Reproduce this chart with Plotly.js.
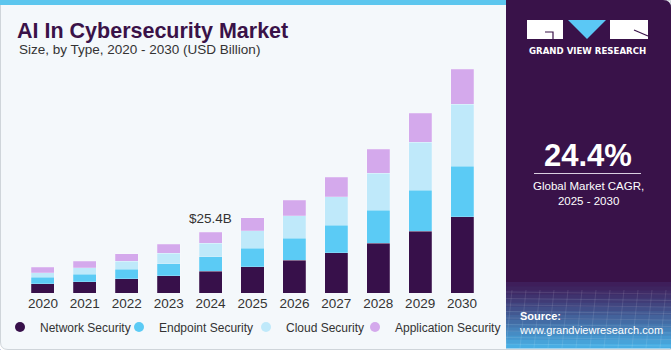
<!DOCTYPE html>
<html>
<head>
<meta charset="utf-8">
<script src="https://cdn.plot.ly/plotly-3.0.1.min.js"></script>
<style>html,body{margin:0;padding:0;background:#ffffff;}#chart{width:671px;height:350px;}</style>
</head>
<body>
<div id="chart"></div>
<script>
const years = ["2020","2021","2022","2023","2024","2025","2026","2027","2028","2029","2030"];
const network = [4.0, 4.8, 6.1, 7.3, 9.2, 11.1, 13.7, 16.9, 20.9, 25.8, 31.9];
const endpoint = [2.7, 3.2, 4.0, 5.0, 6.1, 7.7, 9.2, 11.4, 13.7, 17.2, 21.1];
const cloud = [1.9, 2.6, 3.2, 4.3, 5.6, 7.2, 9.4, 11.9, 15.5, 19.9, 25.8];
const application = [2.2, 2.7, 3.2, 3.9, 4.5, 5.4, 6.5, 8.2, 9.9, 12.1, 14.5];
const seriesNames = ["Network Security","Endpoint Security","Cloud Security","Application Security"];
const seriesColors = ["#37104a","#5bcbf5","#bfe9fa","#d4a9ec"];
const calloutYear = "2024";
const calloutLabel = "$25.4B";
const cagrText = "24.4%";
const cagrLabel = "Global Market CAGR,<br>2025 - 2030";

const W = 671, H = 350;
const px = v => v / W;
const py = v => 1 - v / H;

const seriesValues = [network, endpoint, cloud, application];
const legendIds = ["legend", "legend2", "legend3", "legend4"];
const legendCircleX = [20, 139, 266, 375];
const traces = [];
seriesValues.forEach((vals, i) => {
  traces.push({
    type: "bar", x: years, y: vals, name: seriesNames[i],
    xaxis: "x", yaxis: "y",
    marker: {color: seriesColors[i], line: {color: "rgba(255,255,255,0.35)", width: 0.6}},
    showlegend: false
  });
});
seriesValues.forEach((vals, i) => {
  traces.push({
    type: "scatter", mode: "markers", x: [0], y: [0], name: seriesNames[i],
    xaxis: "x2", yaxis: "y2", legend: legendIds[i],
    marker: {color: seriesColors[i], size: 10, symbol: "circle"},
    showlegend: true, hoverinfo: "skip"
  });
});

const shapes = [];
shapes.push({type: "path", xref: "paper", yref: "paper",
  path: `M ${px(0.5)},${py(6)} L ${px(0.5)},${py(342)} Q ${px(0.5)},${py(349.5)} ${px(8)},${py(349.5)} L ${px(670.5)},${py(349.5)} L ${px(670.5)},${py(0.5)} L ${px(0.5)},${py(0.5)} Z`,
  fillcolor: "#f4f8fb", line: {color: "#cfd5da", width: 1}, layer: "below"});
shapes.push({type: "rect", xref: "paper", yref: "paper", x0: 0, x1: px(506), y0: py(5), y1: 1,
  fillcolor: "#5cc6ee", line: {width: 0}, layer: "below"});
shapes.push({type: "path", xref: "paper", yref: "paper",
  path: `M ${px(506)},${py(0)} L ${px(663)},${py(0)} Q ${px(671)},${py(0)} ${px(671)},${py(8)} L ${px(671)},${py(348)} L ${px(506)},${py(348)} Z`,
  fillcolor: "#391249", line: {width: 0}, layer: "below"});
const g0 = [62, 30, 90], g1 = [72, 174, 228];
const steps = 16, yStart = 282, yEnd = 348;
for (let s = 0; s < steps; s++) {
  const t = s / (steps - 1);
  const c = g0.map((v, k) => Math.round(v + (g1[k] - v) * Math.pow(t, 1.2)));
  const ya = yStart + (yEnd - yStart) * s / steps;
  const yb = yStart + (yEnd - yStart) * (s + 1) / steps + 0.5;
  shapes.push({type: "rect", xref: "paper", yref: "paper", x0: px(506), x1: px(671), y0: py(yb), y1: py(ya),
    fillcolor: `rgb(${c[0]},${c[1]},${c[2]})`, line: {width: 0}, layer: "below"});
}
for (let k = 0; k < 9; k++) {
  const yy = 292 + k * 6.5;
  shapes.push({type: "line", xref: "paper", yref: "paper", x0: px(506), x1: px(671), y0: py(yy), y1: py(yy + 2),
    line: {color: "rgba(255,255,255,0.10)", width: 1}, layer: "below"});
}
for (let k = 0; k < 12; k++) {
  const xx = 512 + k * 14;
  shapes.push({type: "line", xref: "paper", yref: "paper", x0: px(xx), x1: px(xx - 6), y0: py(290), y1: py(348),
    line: {color: "rgba(255,255,255,0.10)", width: 1}, layer: "below"});
}
shapes.push({type: "rect", xref: "paper", yref: "paper", x0: px(527), x1: px(563), y0: py(39), y1: py(20),
  fillcolor: "#ffffff", line: {width: 0}});
shapes.push({type: "path", xref: "paper", yref: "paper",
  path: `M ${px(545)},${py(32)} L ${px(553)},${py(32)} L ${px(553)},${py(39)}`,
  line: {color: "#391249", width: 1.2}});
shapes.push({type: "path", xref: "paper", yref: "paper",
  path: `M ${px(568)},${py(20)} L ${px(606)},${py(20)} L ${px(587)},${py(39)} Z`,
  fillcolor: "#5bc8f5", line: {width: 0}});
shapes.push({type: "rect", xref: "paper", yref: "paper", x0: px(610), x1: px(648), y0: py(39), y1: py(20),
  fillcolor: "#ffffff", line: {width: 0}});
shapes.push({type: "path", xref: "paper", yref: "paper",
  path: `M ${px(634)},${py(30)} L ${px(648)},${py(36)}`,
  line: {color: "#391249", width: 1.2}});
shapes.push({type: "line", xref: "paper", yref: "paper", x0: px(534), x1: px(641), y0: py(173.5), y1: py(173.5),
  line: {color: "#d9cfe0", width: 1.2}});

const totals = years.map((_, i) => seriesValues.reduce((s, arr) => s + arr[i], 0));
const ci = years.indexOf(calloutYear);
const sans = "Liberation Sans, Arial, sans-serif";

const annotations = [
  {xref: "paper", yref: "paper", x: px(17), y: py(50), xanchor: "left", yanchor: "middle",
   text: "Size, by Type, 2020 - 2030 (USD Billion)", showarrow: false,
   font: {family: sans, size: 13.5, color: "#333333"}},
  {x: ci, y: totals[ci], xref: "x", yref: "y", yanchor: "bottom", yshift: 4,
   text: calloutLabel, showarrow: false,
   font: {family: sans, size: 13.5, color: "#333333"}},
  {xref: "paper", yref: "paper", x: px(587.5), y: py(50.5), xanchor: "center", yanchor: "middle",
   text: "<b>GRAND VIEW RESEARCH</b>", showarrow: false,
   font: {family: "DejaVu Sans, sans-serif", size: 8.6, color: "#ffffff"}},
  {xref: "paper", yref: "paper", x: px(588), y: py(155), xanchor: "center", yanchor: "middle",
   text: "<b>" + cagrText + "</b>", showarrow: false,
   font: {family: "Liberation Sans Narrow, Liberation Sans, sans-serif", size: 31, color: "#ffffff"}},
  {xref: "paper", yref: "paper", x: px(588), y: py(193.5), xanchor: "center", yanchor: "middle",
   text: cagrLabel, showarrow: false,
   font: {family: sans, size: 11.5, color: "#ffffff"}},
  {xref: "paper", yref: "paper", x: px(518), y: py(316), xanchor: "left", yanchor: "middle",
   text: "<b>Source:</b>", showarrow: false,
   font: {family: sans, size: 11, color: "#ffffff"}},
  {xref: "paper", yref: "paper", x: px(517), y: py(330), xanchor: "left", yanchor: "middle",
   text: "www.grandviewresearch.com", showarrow: false,
   font: {family: sans, size: 11, color: "#ffffff"}}
];

const legendBase = {orientation: "h", yanchor: "middle", xanchor: "left", y: py(327),
  bgcolor: "rgba(0,0,0,0)", itemwidth: 30,
  font: {family: sans, size: 12, color: "#333333"}};

const layout = {
  width: W, height: H,
  margin: {l: 0, r: 0, t: 0, b: 0},
  paper_bgcolor: "#ffffff",
  plot_bgcolor: "rgba(0,0,0,0)",
  barmode: "stack",
  bargap: 0.45,
  title: {text: "<b>AI In Cybersecurity Market</b>", x: px(17), xanchor: "left", xref: "paper",
          y: py(30), yanchor: "middle", yref: "container",
          font: {family: sans, size: 21.5, color: "#3a1248"}},
  xaxis: {domain: [px(22), px(483)], type: "category", categoryorder: "array", categoryarray: years,
          range: [-0.5, years.length - 0.5],
          showline: false, showgrid: false, zeroline: false,
          ticks: "", tickfont: {family: sans, size: 13.5, color: "#333333"}, fixedrange: true},
  yaxis: {domain: [1 - 293.3 / H, 1 - 65.2 / H], range: [0, 95], visible: false, showgrid: false, fixedrange: true},
  xaxis2: {domain: [0, 0.001], visible: false, anchor: "y2"},
  yaxis2: {domain: [0, 0.001], visible: false, anchor: "x2", range: [10, 11]},
  showlegend: true,
  legend: Object.assign({}, legendBase, {x: px(legendCircleX[0] - 20)}),
  legend2: Object.assign({}, legendBase, {x: px(legendCircleX[1] - 20)}),
  legend3: Object.assign({}, legendBase, {x: px(legendCircleX[2] - 20)}),
  legend4: Object.assign({}, legendBase, {x: px(legendCircleX[3] - 20)}),
  shapes: shapes,
  annotations: annotations
};

Plotly.newPlot("chart", traces, layout, {displayModeBar: false, staticPlot: true});
</script>
</body>
</html>
